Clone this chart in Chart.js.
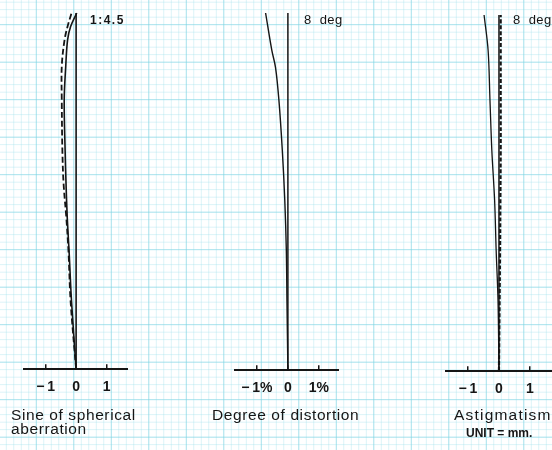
<!DOCTYPE html>
<html>
<head>
<meta charset="utf-8">
<script src="https://cdn.jsdelivr.net/npm/chart.js@4.4.1/dist/chart.umd.min.js"></script>
<style>
html, body { margin: 0; padding: 0; }
body {
  width: 552px; height: 450px; position: relative; overflow: hidden;
  background-color: #fff;
  background-image:
    linear-gradient(to right, rgba(120,210,226,.5) 1px, transparent 1px),
    linear-gradient(to bottom, rgba(120,210,226,.5) 1px, transparent 1px),
    linear-gradient(to right, rgba(160,225,236,.4) 1px, transparent 1px),
    linear-gradient(to bottom, rgba(160,225,236,.4) 1px, transparent 1px);
  background-size: 37.5px 37.5px, 37.5px 37.5px, 7.5px 7.5px, 7.5px 7.5px;
  background-position: 35.8px 0, 0 24.2px, 5.8px 0, 0 1.7px;
}
canvas { position: absolute; }
.lbl { position: absolute; font-family: "Liberation Sans", Arial, sans-serif; color: #151515; white-space: nowrap; }
.cap { font-size: 15.5px; line-height: 14px; letter-spacing: 0.6px; }
.small { font-size: 12px; font-weight: bold; letter-spacing: 1.5px; }
.deg { font-size: 13px; letter-spacing: 0.4px; }
</style>
</head>
<body>
<canvas id="c1" width="105" height="408" style="left:23px; top:3px"></canvas>
<canvas id="c2" width="105" height="409" style="left:234px; top:3px"></canvas>
<canvas id="c3" width="107" height="408" style="left:445px; top:5px"></canvas>

<div class="lbl small" style="left:90px; top:13px">1:4.5</div>
<div class="lbl deg" style="left:304px; top:12px">8 &nbsp;deg</div>
<div class="lbl deg" style="left:513px; top:12px">8 &nbsp;deg</div>

<div class="lbl cap" style="left:11px; top:408px">Sine of spherical<br>aberration</div>
<div class="lbl cap" style="left:212px; top:408px">Degree of distortion</div>
<div class="lbl cap" style="left:454px; top:408px; letter-spacing:1.2px">Astigmatism</div>
<div class="lbl" style="left:466px; top:426px; font-size:12px; font-weight:bold">UNIT = mm.</div>

<script>
// relative height on the vertical axis (0 = axis, 1 = top of curve)
const sphHeights   = [0, 0.19, 0.33, 0.425, 0.52, 0.614, 0.755, 0.85, 0.924, 0.962, 1.0];
const sphAberr     = [0, -0.15, -0.23, -0.29, -0.33, -0.36, -0.39, -0.34, -0.28, -0.18, 0.02];
const sineCond     = [0, -0.18, -0.25, -0.32, -0.41, -0.45, -0.47, -0.47, -0.38, -0.28, -0.15];

const distHeights  = [0, 0.194, 0.334, 0.475, 0.615, 0.756, 0.848, 0.896, 1.0];
const distValues   = [0, -0.03, -0.05, -0.10, -0.18, -0.29, -0.40, -0.52, -0.72];

const astHeights    = [0, 0.197, 0.338, 0.479, 0.62, 0.761, 0.901, 1.0];
const astSagittal   = [0, -0.03, -0.09, -0.14, -0.23, -0.29, -0.35, -0.48];
const astMeridional = [0, 0.02, 0.035, 0.045, 0.055, 0.055, 0.055, 0.055];

const axisTicks = [-1, 0, 1];
const sphRange  = [-1.74, 1.70];
const distRange = [-1.74, 1.65];
const astRange  = [-1.74, 1.71];

const INK = "#151515";

function pts(xs, hs) {
  return hs.map((h, i) => ({ x: xs[i], y: h }));
}

function axisLine() {
  return [{ x: 0, y: 0 }, { x: 0, y: 1 }];
}

function makePanel(id, range, datasets, fmt) {
  new Chart(document.getElementById(id), {
    type: "scatter",
    data: { datasets },
    options: {
      responsive: false,
      animation: false,
      layout: { padding: { top: 10, left: 0, right: 0, bottom: 0 } },
      plugins: { legend: { display: false }, tooltip: { enabled: false } },
      scales: {
        x: {
          type: "linear",
          min: range[0],
          max: range[1],
          afterBuildTicks: s => { s.ticks = axisTicks.map(v => ({ value: v })); },
          // labels sit inside the axis span, no side padding needed
          afterFit: s => { s.paddingLeft = 0; s.paddingRight = 0; },
          border: { display: true, color: INK, width: 2 },
          grid: { drawOnChartArea: false, drawTicks: true, tickLength: -5, color: INK, lineWidth: 1.5 },
          ticks: {
            padding: 15,
            color: INK,
            maxRotation: 0,
            minRotation: 0,
            autoSkip: false,
            font: { family: "'Liberation Sans', Arial, sans-serif", size: 14, weight: "bold" },
            callback: fmt
          }
        },
        y: { type: "linear", min: 0, max: 1, display: false }
      }
    }
  });
}

const line = (data, width, dash) => ({
  data, showLine: true, pointRadius: 0, borderColor: INK, borderWidth: width,
  borderDash: dash || [], tension: 0.35, clip: false
});

const plain = v => v < 0 ? "\u2212\u2009" + Math.abs(v) : String(v);
const pct = v => v === 0 ? "0" : (v < 0 ? "\u2212\u2009" : "") + Math.abs(v) + "%";

makePanel("c1", sphRange, [
  line(axisLine(), 1.6),
  line(pts(sphAberr, sphHeights), 1.6),
  line(pts(sineCond, sphHeights), 1.8, [6, 3])
], plain);

makePanel("c2", distRange, [
  line(axisLine(), 1.5),
  line(pts(distValues, distHeights), 1.4)
], pct);

makePanel("c3", astRange, [
  line(axisLine(), 1.5),
  line(pts(astSagittal, astHeights), 1.3),
  line(pts(astMeridional, astHeights), 2.2, [4, 2])
], plain);
</script>
</body>
</html>
